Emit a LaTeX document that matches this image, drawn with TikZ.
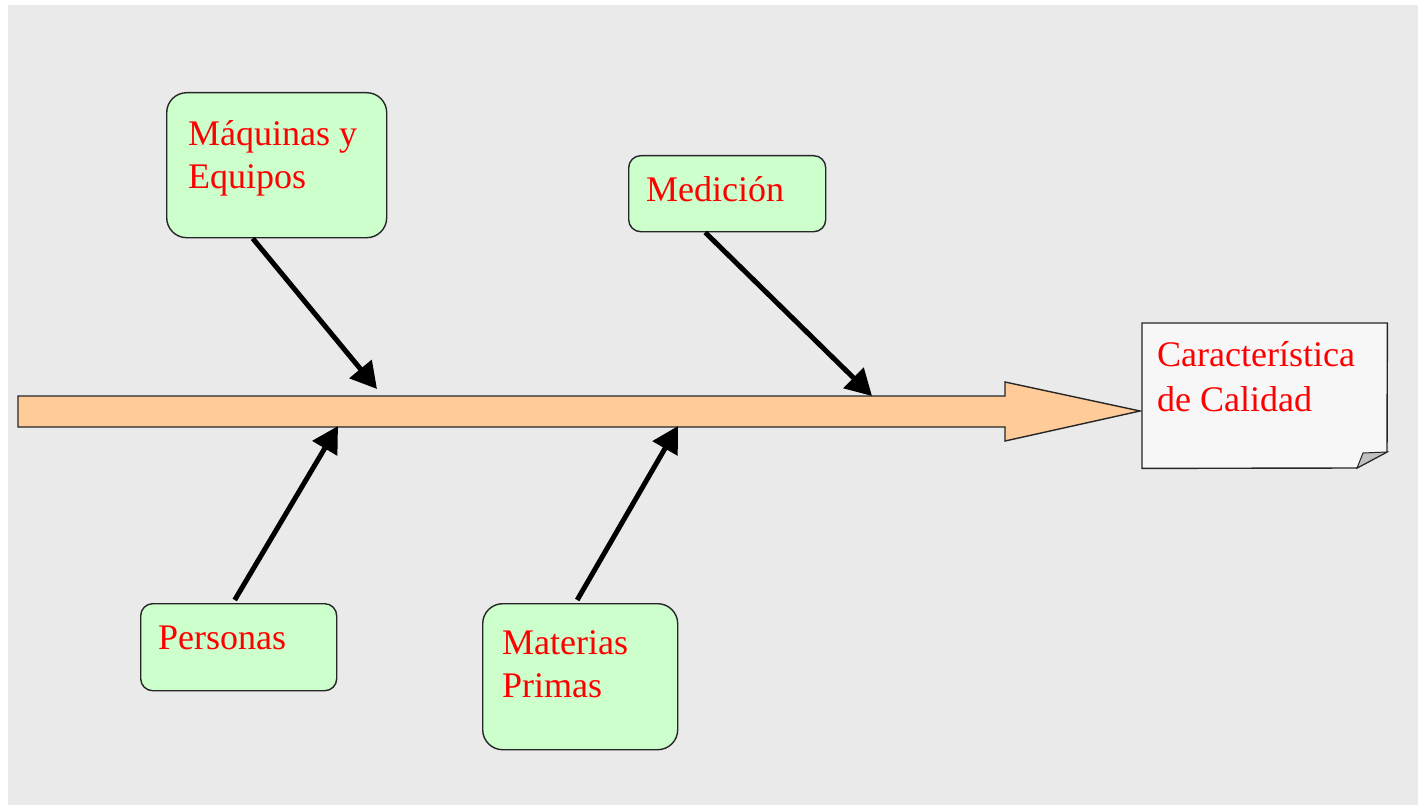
\documentclass[tikz,border=0pt]{standalone}
\usepackage{fontspec}
\setmainfont{Liberation Serif}
\usetikzlibrary{arrows.meta}
\definecolor{bggray}{HTML}{EAEAEA}
\definecolor{boxgreen}{HTML}{CCFFCC}
\definecolor{peach}{HTML}{FFCC99}
\definecolor{notefill}{HTML}{F7F7F7}
\definecolor{flapgray}{HTML}{C0C0C0}
\tikzset{
  causebox/.style={draw=black!85, line width=1.4pt, fill=boxgreen, rounded corners=#1, inner sep=0pt, anchor=north west},
  lbl/.style={text=red, inner sep=0pt, anchor=base west, font=\fontsize{36}{43}\selectfont},
  causearrow/.style={line width=5pt, -{Triangle[length=26pt,width=28pt]}},
}
\begin{document}
\begin{tikzpicture}[x=1pt,y=-1pt]
\useasboundingbox (0,0) rectangle (1418,805);
\fill[white] (0,0) rectangle (1418,805);
\fill[bggray] (8,5) rectangle (1418,805);

% main spine
\coordinate (spinetail) at (18,411);
\coordinate (spinetip) at (1140,411);
\filldraw[fill=peach, draw=black!85, line width=1.4pt]
  (18,396) -- (1005,396) -- (1005,382) -- (spinetip) -- (1005,441) -- (1005,427) -- (18,427) -- cycle;

% effect note
\node[inner sep=0pt, minimum width=245pt, minimum height=145pt, anchor=north west] (note) at (1142,323) {};
\filldraw[fill=notefill, draw=black!85, line width=1.4pt]
  (note.north west) -- (note.north east) -- (1387,452) -- (1357,468) -- (note.south west) -- cycle;
\filldraw[fill=flapgray, draw=black!85, line width=1pt] (1357,468) -- (1363,453) -- (1387,452) -- cycle;
\node[lbl] (n1) at (1157,366) {Característica};
\node[lbl] (n2) at (1157,411) {de Calidad};

% cause boxes
\node[causebox=20pt, minimum width=220pt, minimum height=145pt] (maq) at (166,92) {};
\node[lbl] (maq1) at (188,146) {Máquinas y};
\node[lbl] (maq2) at (188,189) {Equipos};

\node[causebox=12pt, minimum width=197pt, minimum height=76pt] (med) at (628,155) {};
\node[lbl] (med1) at (646,201) {Medición};

\node[causebox=12pt, minimum width=196pt, minimum height=87pt] (per) at (140,603) {};
\node[lbl] (per1) at (158,649) {Personas};

\node[causebox=20pt, minimum width=195pt, minimum height=146pt] (mat) at (482,603) {};
\node[lbl] (mat1) at (502,654) {Materias};
\node[lbl] (mat2) at (502,697) {Primas};

% arrow tips on the spine
\coordinate (t1) at (377,389);
\coordinate (t2) at (872,396);
\coordinate (t3) at (338,426);
\coordinate (t4) at (678,426);

\draw[causearrow] ([xshift=-24pt]maq.south) -- (t1);
\draw[causearrow] ([xshift=-22pt]med.south) -- (t2);
\draw[causearrow] ([xshift=-4pt,yshift=3pt]per.north) -- (t3);
\draw[causearrow] ([xshift=-3pt,yshift=3pt]mat.north) -- (t4);
\end{tikzpicture}
\end{document}
